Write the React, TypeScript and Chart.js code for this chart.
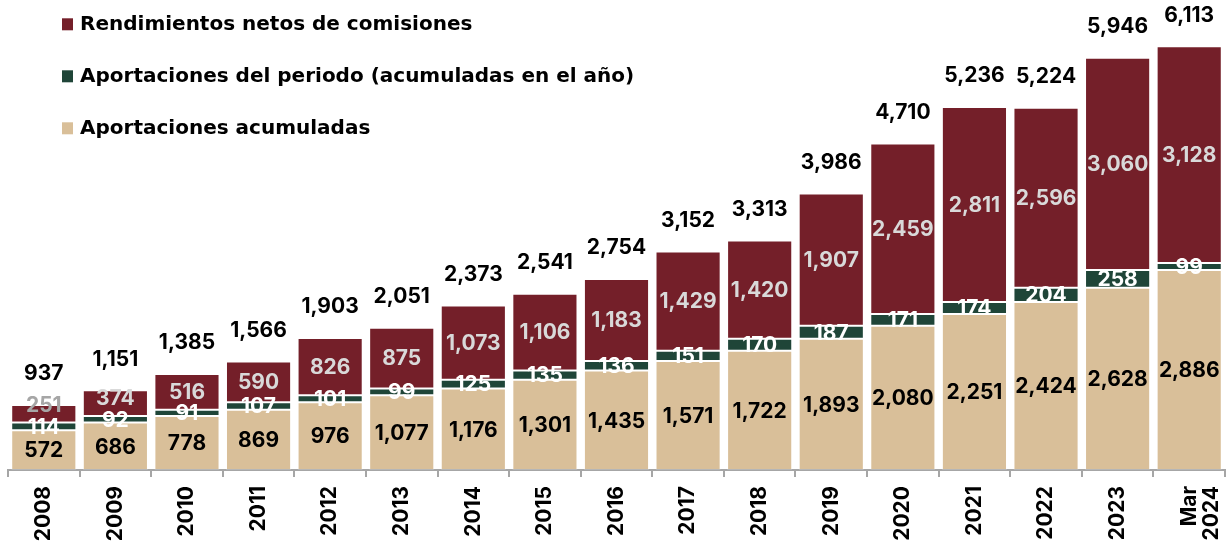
import { useEffect, useRef } from "react";
import { Chart, registerables } from "chart.js";

Chart.register(...registerables);

const categories: (string | string[])[] = [
  "2008", "2009", "2010", "2011", "2012", "2013", "2014", "2015", "2016",
  "2017", "2018", "2019", "2020", "2021", "2022", "2023", ["Mar", "2024"],
];
const aportacionesAcumuladas = [572, 686, 778, 869, 976, 1077, 1176, 1301, 1435, 1571, 1722, 1893, 2080, 2251, 2424, 2628, 2886];
const aportacionesPeriodo = [114, 92, 91, 107, 101, 99, 125, 135, 136, 151, 170, 187, 171, 174, 204, 258, 99];
const rendimientos = [251, 374, 516, 590, 826, 875, 1073, 1106, 1183, 1429, 1420, 1907, 2459, 2811, 2596, 3060, 3128];
const totals = [937, 1151, 1385, 1566, 1903, 2051, 2373, 2541, 2754, 3152, 3313, 3986, 4710, 5236, 5224, 5946, 6113];

const seriesNames = [
  "Aportaciones acumuladas",
  "Aportaciones del periodo (acumuladas en el año)",
  "Rendimientos netos de comisiones",
];
const seriesColors = ["#D9BF99", "#1F4538", "#741F29"];
const legendOrder = [2, 1, 0];

const FONT = "Inter, 'DejaVu Sans', sans-serif";
const LEGEND_FONT = "'DejaVu Sans', sans-serif";

const fmt = (v: number) => v.toLocaleString("en-US");

const labelsPlugin = {
  id: "valueLabels",
  afterDatasetsDraw(chart: any) {
    const ctx = chart.ctx;
    ctx.save();
    ctx.textAlign = "center";
    ctx.textBaseline = "middle";
    chart.data.datasets.forEach((ds: any, di: number) => {
      const meta = chart.getDatasetMeta(di);
      meta.data.forEach((bar: any, i: number) => {
        const v = ds.data[i];
        const top = bar.y;
        const base = bar.base;
        let y = (top + base) / 2;
        let color = "#000000";
        if (di === 1) color = "#FFFFFF";
        if (di === 2) {
          y = Math.min(y, base - 18);
          color = base - top < 20 ? "#A6A6A6" : "#D9D9D9";
        }
        ctx.font = `bold 21px ${FONT}`;
        ctx.fillStyle = color;
        ctx.fillText(fmt(v), bar.x, y + 1);
      });
    });
    // totals
    const yScale = chart.scales.y;
    const meta0 = chart.getDatasetMeta(0);
    ctx.font = `bold 21px ${FONT}`;
    ctx.fillStyle = "#000000";
    totals.forEach((t, i) => {
      const x = meta0.data[i].x;
      const y = yScale.getPixelForValue(t) - 31;
      ctx.fillText(fmt(t), x, y);
    });
    // legend
    ctx.textAlign = "left";
    ctx.textBaseline = "alphabetic";
    ctx.font = `bold 20px ${LEGEND_FONT}`;
    legendOrder.forEach((si, k) => {
      const base = 30.3 + k * 52;
      ctx.fillStyle = seriesColors[si];
      ctx.fillRect(62, base - 12, 11, 12);
      ctx.fillStyle = "#000000";
      ctx.fillText(seriesNames[si], 80, base);
    });
    ctx.restore();
  },
};

export default function App() {
  const ref = useRef<HTMLCanvasElement | null>(null);
  useEffect(() => {
    if (!ref.current) return;
    const datasets = [aportacionesAcumuladas, aportacionesPeriodo, rendimientos].map((d, i) => ({
      label: seriesNames[i],
      data: d,
      backgroundColor: seriesColors[i],
      borderColor: "rgba(255,255,255,0.18)",
      borderWidth: 1,
      borderSkipped: false,
      barPercentage: 0.91,
      categoryPercentage: 1,
    }));
    const chart = new Chart(ref.current, {
      type: "bar",
      data: { labels: categories as any, datasets },
      options: {
        animation: false,
        responsive: true,
        maintainAspectRatio: false,
        layout: { padding: { left: 8, right: 2, top: 0, bottom: 0 } },
        plugins: { legend: { display: false }, tooltip: { enabled: false } },
        scales: {
          x: {
            stacked: true,
            grid: {
              display: true,
              offset: true,
              drawOnChartArea: false,
              drawTicks: true,
              tickLength: 7,
              color: "#A6A6A6",
              lineWidth: 2,
            },
            border: { display: true, color: "#A6A6A6", width: 2 },
            ticks: {
              minRotation: 90,
              maxRotation: 90,
              autoSkip: false,
              padding: 9,
              color: "#000000",
              font: { family: FONT, weight: "bold", size: 21, lineHeight: 1.05 },
            },
            afterFit: (scale: any) => {
              scale.height = 73;
              scale.paddingLeft = 0;
              scale.paddingRight = 0;
            },
          },
          y: {
            stacked: true,
            display: false,
            min: 0,
            max: 6780,
          },
        },
      } as any,
      plugins: [labelsPlugin],
    });
    return () => chart.destroy();
  }, []);
  return (
    <div style={{ position: "fixed", left: 0, top: 0, width: 1227, height: 543, background: "#FFFFFF" }}>
      <canvas ref={ref} />
    </div>
  );
}
